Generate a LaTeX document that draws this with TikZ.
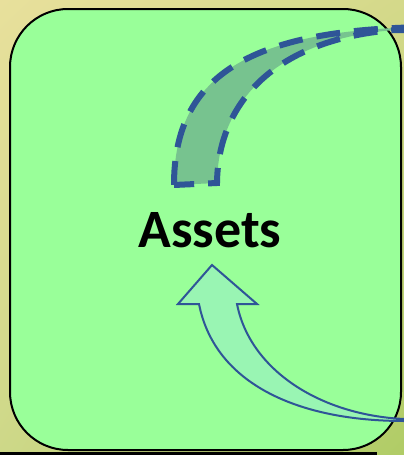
\documentclass[tikz,border=0pt]{standalone}
\usepackage{fontspec}
\setmainfont{Carlito}
\usetikzlibrary{shadings}
\definecolor{boxgreen}{HTML}{99FF99}
\definecolor{bandgreen}{HTML}{77C38F}
\definecolor{arrowmint}{HTML}{99F5B3}
\definecolor{dkblue}{HTML}{2F5597}
\definecolor{bgA}{HTML}{E8E09C}
\definecolor{bgB}{HTML}{D4D98A}
\definecolor{bgC}{HTML}{CDD888}
\definecolor{bgD}{HTML}{B0CC66}
\tikzset{
  panel/.style={fill=boxgreen, draw=black, line width=2pt, rounded corners=58pt},
  band/.style={fill=bandgreen, draw=dkblue, line width=6pt, dash pattern=on 24pt off 14pt},
  bigarrow/.style={fill=arrowmint, draw=dkblue, line width=2pt, line join=miter},
  label/.style={font=\bfseries\fontsize{54}{62}\selectfont, text=black, inner sep=0pt}
}
\begin{document}
\begin{tikzpicture}[x=1pt,y=-1pt]
\useasboundingbox (0,0) rectangle (404,455);
\clip (0,0) rectangle (404,455);
\shade[upper left=bgA, upper right=bgB, lower left=bgC, lower right=bgD] (0,0) rectangle (404,455);
\fill[black] (0,452) rectangle (377,455);
\draw[panel] (10,9) rectangle (401,450);
% dashed curved band
\draw[band] (174,185) .. controls (174,75) and (250,27) .. (440,27)
  -- (440,30) -- (395,30) .. controls (285,38) and (218,95) .. (217,183) -- cycle;
% curved arrow
\draw[bigarrow] (212,265) -- (257,304) -- (237,304)
  .. controls (250,370) and (320,415) .. (404,419) -- (430,419) -- (430,421) -- (404,421)
  .. controls (300,421) and (215,385) .. (199,304) -- (178,304) -- cycle;
\node[label] (assets) at (210,230) {Assets};
\end{tikzpicture}
\end{document}
